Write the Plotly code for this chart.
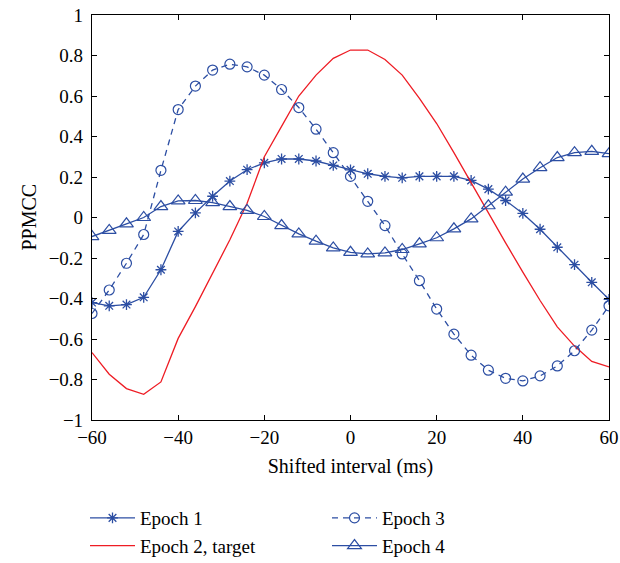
import plotly.graph_objects as go

shift_ms = list(range(-60, 61, 4))

epoch1 = [-0.42, -0.436, -0.43, -0.394, -0.258, -0.069, 0.023, 0.105, 0.18, 0.236,
          0.27, 0.289, 0.289, 0.279, 0.257, 0.235, 0.216, 0.203, 0.196, 0.203,
          0.203, 0.203, 0.183, 0.14, 0.084, 0.02, -0.058, -0.147, -0.233, -0.32, -0.404]

epoch2 = [-0.667, -0.774, -0.845, -0.873, -0.812, -0.597, -0.44, -0.276, -0.11, 0.07,
          0.3, 0.45, 0.6, 0.703, 0.786, 0.827, 0.827, 0.78, 0.703, 0.588,
          0.464, 0.32, 0.17, 0.02, -0.125, -0.27, -0.41, -0.54, -0.635, -0.711, -0.738]

epoch3 = [-0.474, -0.358, -0.226, -0.084, 0.233, 0.533, 0.649, 0.728, 0.757, 0.744,
          0.703, 0.632, 0.543, 0.436, 0.32, 0.203, 0.08, -0.04, -0.18, -0.312,
          -0.452, -0.576, -0.68, -0.754, -0.794, -0.807, -0.782, -0.733, -0.658, -0.556, -0.436]

epoch4 = [-0.094, -0.064, -0.031, 0.0, 0.054, 0.082, 0.084, 0.073, 0.054, 0.035,
          0.005, -0.04, -0.081, -0.117, -0.15, -0.172, -0.18, -0.175, -0.158, -0.13,
          -0.1, -0.056, -0.007, 0.058, 0.125, 0.19, 0.246, 0.296, 0.32, 0.327, 0.315]

x_ticks = [-60, -40, -20, 0, 20, 40, 60]
y_ticks = [-1, -0.8, -0.6, -0.4, -0.2, 0, 0.2, 0.4, 0.6, 0.8, 1]

BLUE = "#2c4ea3"
RED = "#ee1c24"
FONT = "Liberation Serif"

fig = go.Figure()
fig.add_trace(go.Scatter(x=shift_ms, y=epoch1, name="Epoch 1", mode="lines+markers",
                         line=dict(color=BLUE, width=1.3),
                         marker=dict(symbol="asterisk", size=9, line=dict(color=BLUE, width=1.3)),
                         legend="legend"))
fig.add_trace(go.Scatter(x=shift_ms, y=epoch2, name="Epoch 2, target", mode="lines",
                         line=dict(color=RED, width=1.3), legend="legend"))
fig.add_trace(go.Scatter(x=shift_ms, y=epoch3, name="Epoch 3", mode="lines+markers",
                         line=dict(color=BLUE, width=1.3, dash="6px,5px"),
                         marker=dict(symbol="circle-open", size=10, line=dict(color=BLUE, width=1.2)),
                         legend="legend2"))
fig.add_trace(go.Scatter(x=shift_ms, y=epoch4, name="Epoch 4", mode="lines+markers",
                         line=dict(color=BLUE, width=1.3),
                         marker=dict(symbol="triangle-up-open", size=12, line=dict(color=BLUE, width=1.2)),
                         legend="legend2"))

axis_common = dict(showline=True, linecolor="black", linewidth=1.2, mirror="ticks",
                   ticks="inside", ticklen=5, tickcolor="black", showgrid=False,
                   zeroline=False, automargin=True,
                   tickfont=dict(family=FONT, size=19, color="black"))

legend_common = dict(bgcolor="rgba(0,0,0,0)", font=dict(family=FONT, size=19, color="black"),
                     tracegroupgap=0, itemwidth=45, xref="container", yref="container",
                     xanchor="left", yanchor="top", borderwidth=0)

fig.update_layout(
    template="plotly_white",
    width=620, height=563,
    margin=dict(l=92, r=11, t=15, b=143, autoexpand=False),
    plot_bgcolor="white", paper_bgcolor="white",
    font=dict(family=FONT, size=19, color="black"),
    xaxis=dict(range=[-60, 60], tickvals=x_ticks,
               title=dict(text="Shifted interval (ms)", font=dict(family=FONT, size=20), standoff=12),
               **axis_common),
    yaxis=dict(range=[-1, 1], tickvals=y_ticks, ticklabelstandoff=4, **axis_common),
    legend=dict(x=85 / 620, y=1 - 499 / 563, **legend_common),
    legend2=dict(x=327 / 620, y=1 - 499 / 563, **legend_common),
    annotations=[dict(text="PPMCC", textangle=-90, xref="paper", yref="paper",
                      x=0, y=0.5, xshift=-64, xanchor="center", yanchor="middle",
                      showarrow=False, font=dict(family=FONT, size=20, color="black"))],
)

fig.write_html("out.html", config={"displayModeBar": False},
               post_script="document.body.style.margin='0';document.body.style.overflow='hidden';")
